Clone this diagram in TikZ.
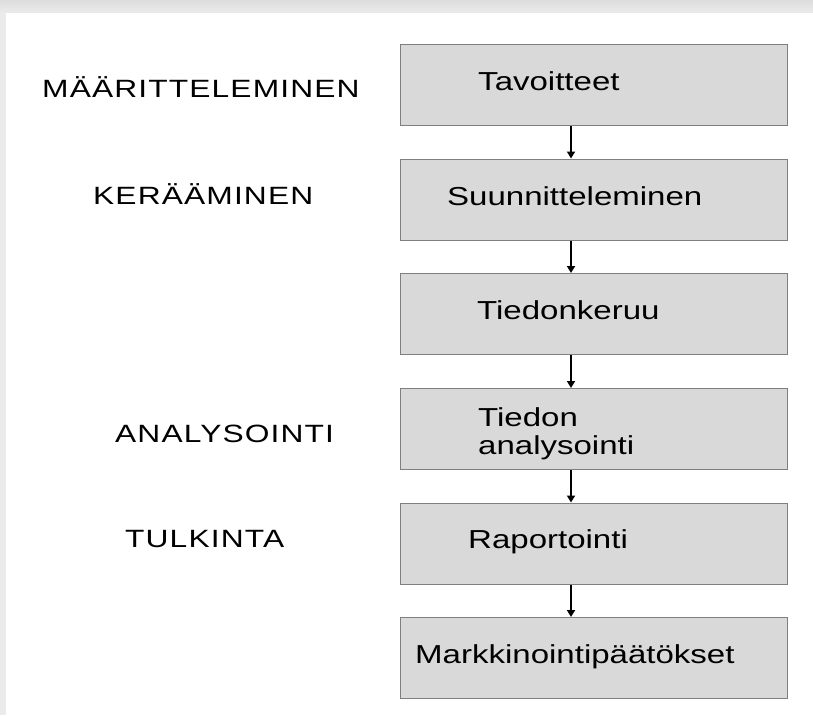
\documentclass[tikz,border=0pt]{standalone}
\usepackage{fontspec}
\setmainfont{Liberation Sans}[FakeStretch=1.27]
\newfontfamily\labfont{Liberation Sans}[FakeStretch=1.27,LetterSpace=4.5]
\usetikzlibrary{arrows.meta}
\definecolor{boxfill}{HTML}{D9D9D9}
\definecolor{boxline}{HTML}{7F7F7F}
\definecolor{frame}{HTML}{EBEBEB}
\begin{document}
\begin{tikzpicture}[x=1pt,y=-1pt,
  stage/.style={draw=boxline,fill=boxfill,line width=1.3pt,minimum width=387pt,minimum height=81pt,inner sep=0pt,anchor=north west},
  txt/.style={anchor=base west,inner sep=0pt,font=\fontsize{26}{28}\selectfont},
  lab/.style={anchor=base west,inner sep=0pt,font=\labfont\fontsize{25}{28}\selectfont},
  flow/.style={line width=1.8pt,-{Triangle[length=7pt,width=8pt]}}]
\useasboundingbox (0,0) rectangle (813,715);
\fill[top color=frame!80!black!30!frame,bottom color=frame] (0,0) rectangle (813,13);
\fill[frame] (0,13) rectangle (6,715);
\fill[white] (6,13) rectangle (813,715);
% boxes
\node[stage] (b1) at (400,44) {};
\node[stage] (b2) at (400,158.5) {};
\node[stage] (b3) at (400,273) {};
\node[stage] (b4) at (400,388) {};
\node[stage] (b5) at (400,502.5) {};
\node[stage] (b6) at (400,617) {};
% box texts
\node[txt] (t1) at (478,90) {Tavoitteet};
\node[txt] (t2) at (447,205) {Suunnitteleminen};
\node[txt] (t3) at (477,319) {Tiedonkeruu};
\node[txt] (t4a) at (478,426) {Tiedon};
\node[txt] (t4b) at (478,454) {analysointi};
\node[txt] (t5) at (468,548) {Raportointi};
\node[txt] (t6) at (415,663) {Markkinointipäätökset};
% left labels
\node[lab] (l1) at (42,97) {MÄÄRITTELEMINEN};
\node[lab] (l2) at (93,204) {KERÄÄMINEN};
\node[lab] (l3) at (115,442) {ANALYSOINTI};
\node[lab] (l4) at (125,547) {TULKINTA};
% arrows
\coordinate (ax) at (571,0);
\draw[flow] (b1.south -| ax) -- (b2.north -| ax);
\draw[flow] (b2.south -| ax) -- (b3.north -| ax);
\draw[flow] (b3.south -| ax) -- (b4.north -| ax);
\draw[flow] (b4.south -| ax) -- (b5.north -| ax);
\draw[flow] (b5.south -| ax) -- (b6.north -| ax);
\end{tikzpicture}
\end{document}
